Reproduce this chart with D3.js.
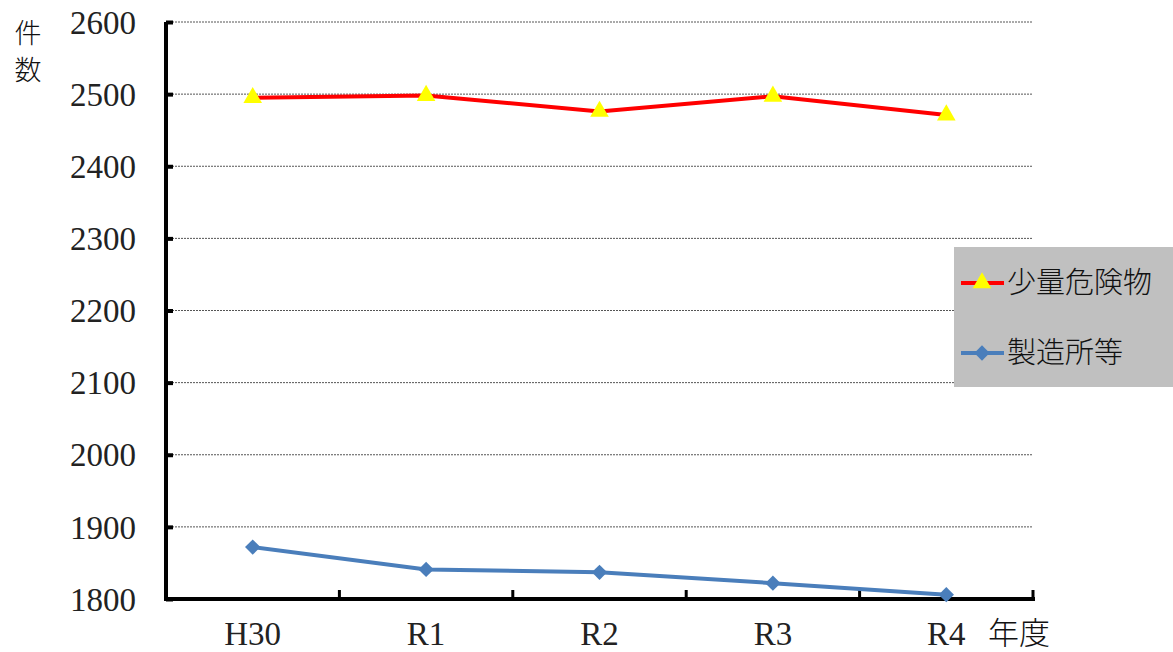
<!DOCTYPE html>
<html>
<head>
<meta charset="utf-8">
<script src="https://cdn.jsdelivr.net/npm/d3@7"></script>
<style>
  body { margin: 0; background: #fff; }
  .jp { font-family: "Noto Sans CJK JP", sans-serif; font-weight: 300; }
</style>
</head>
<body>
<div id="chart"></div>
<script>
// data
const years = ["H30", "R1", "R2", "R3", "R4"];
const smallHazard = [2495, 2498, 2476, 2497, 2471];   // 少量危険物
const facilities = [1872, 1841, 1837, 1822, 1806];    // 製造所等
const yTicks = [1800, 1900, 2000, 2100, 2200, 2300, 2400, 2500, 2600];

const W = 1173, H = 652;
const margin = { top: 22, right: 140, bottom: 53, left: 166 };
const width = W - margin.left - margin.right;
const height = H - margin.top - margin.bottom;
const serif = '"Liberation Serif", serif';

const svg = d3.select("#chart").append("svg")
    .attr("width", W).attr("height", H);
const g = svg.append("g").attr("transform", `translate(${margin.left},${margin.top})`);

const x = d3.scaleBand().domain(years).range([0, width]);
const y = d3.scaleLinear().domain([1800, 2600]).range([height, 0]);
const cx = d => x(d) + x.bandwidth() / 2;

// grid
g.append("g").selectAll("line").data(yTicks.slice(1)).enter().append("line")
    .attr("x1", 0).attr("x2", width)
    .attr("y1", d => y(d)).attr("y2", d => y(d))
    .attr("stroke", "#555").attr("stroke-width", 1)
    .attr("stroke-dasharray", "2,1");

// y axis
const yAxis = g.append("g")
    .call(d3.axisLeft(y).tickValues(yTicks).tickFormat(d3.format("d")).tickSize(-7).tickPadding(30));
yAxis.attr("font-family", serif);
yAxis.select(".domain").attr("stroke-width", 4).attr("d", `M0,${height}V0`);
yAxis.selectAll(".tick line").attr("stroke-width", 4);
yAxis.selectAll(".tick text")
    .style("font-family", serif).style("font-weight", "normal")
    .attr("font-size", 33).attr("fill", "#222").attr("dy", "0.34em");

// x axis, ticks at band edges
const xAxis = g.append("g").attr("transform", `translate(0,${height})`);
xAxis.append("line").attr("x1", -2).attr("x2", width + 2)
    .attr("stroke", "#000").attr("stroke-width", 4);
xAxis.selectAll(".xt").data(years).enter().append("line")
    .attr("x1", d => x(d) + x.bandwidth()).attr("x2", d => x(d) + x.bandwidth())
    .attr("y1", 0).attr("y2", -9)
    .attr("stroke", "#000").attr("stroke-width", 3);
xAxis.selectAll(".xl").data(years).enter().append("text")
    .attr("x", d => cx(d)).attr("y", 46)
    .attr("text-anchor", "middle")
    .style("font-family", serif).style("font-weight", "normal")
    .attr("font-size", 33).attr("fill", "#222")
    .text(d => d);

// lines
const line = vals => d3.line().x((d, i) => cx(years[i])).y(d => y(d))(vals);

g.append("path").attr("d", line(smallHazard))
    .attr("fill", "none").attr("stroke", "#ff0000").attr("stroke-width", 4);
g.append("path").attr("d", line(facilities))
    .attr("fill", "none").attr("stroke", "#4a7ebb").attr("stroke-width", 4);

const tri = d3.symbol().type(d3.symbolTriangle).size(150)();
const dia = d3.symbol().type(d3.symbolDiamond2).size(150)();

g.selectAll(".tri").data(smallHazard).enter().append("path")
    .attr("d", tri)
    .attr("transform", (d, i) => `translate(${cx(years[i])},${y(d)})`)
    .attr("fill", "#ffff00");
g.selectAll(".dia").data(facilities).enter().append("path")
    .attr("d", dia)
    .attr("transform", (d, i) => `translate(${cx(years[i])},${y(d)})`)
    .attr("fill", "#4a7ebb");

// axis titles
svg.append("text").attr("class", "jp").attr("x", 28).attr("y", 43)
    .attr("text-anchor", "middle").attr("font-size", 27).attr("fill", "#111").text("件");
svg.append("text").attr("class", "jp").attr("x", 28).attr("y", 80)
    .attr("text-anchor", "middle").attr("font-size", 27).attr("fill", "#111").text("数");
svg.append("text").attr("class", "jp").attr("x", 988).attr("y", 644)
    .attr("font-size", 31).attr("fill", "#111").text("年度");

// legend
const legend = svg.append("g").attr("transform", "translate(954,247)");
legend.append("rect").attr("width", 219).attr("height", 140).attr("fill", "#c0c0c0");
const items = [
    { name: "少量危険物", color: "#ff0000", sym: tri, fill: "#ffff00", yy: 36 },
    { name: "製造所等", color: "#4a7ebb", sym: dia, fill: "#4a7ebb", yy: 106 }
];
items.forEach(it => {
    const row = legend.append("g").attr("transform", `translate(0,${it.yy})`);
    row.append("line").attr("x1", 7).attr("x2", 50)
        .attr("stroke", it.color).attr("stroke-width", 4);
    row.append("path").attr("d", it.sym).attr("transform", "translate(28,0)").attr("fill", it.fill);
    row.append("text").attr("class", "jp").attr("x", 53).attr("y", 10)
        .attr("font-size", 29).attr("fill", "#111").text(it.name);
});
</script>
</body>
</html>
